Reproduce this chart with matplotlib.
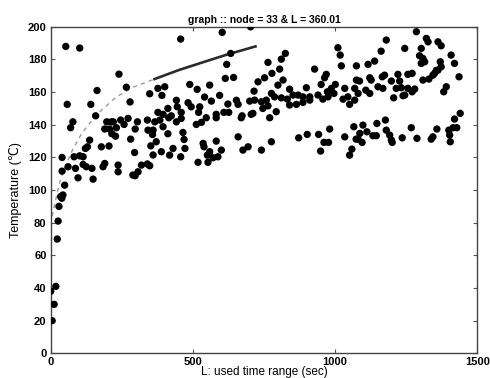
import matplotlib
matplotlib.use("Agg")
import matplotlib.pyplot as plt

plt.rcParams['font.family'] = ['Liberation Sans', 'DejaVu Sans']

# measured samples: used time range (sec) vs temperature
used_time = [
    0, 12, 5, 18, 23, 26, 29, 35, 43, 39, 49,
    53, 102, 240, 163, 266, 348, 58, 141, 279, 158,
    603, 703, 457, 633, 619, 614, 643, 489, 559, 377, 401, 515, 391, 541, 594,
    442, 565, 653, 700, 623, 483, 494, 445, 412, 524, 659,
    377, 395, 424, 459, 520, 582, 609, 626, 673, 705,
    366, 395, 360, 358, 415, 442, 459, 465, 469, 512, 530, 547, 582, 670,
    371, 352, 389, 430, 418, 457, 536, 539, 582, 600, 559, 551, 571, 588,
    518, 553, 659, 676, 694, 348,
    78, 70, 213, 246, 272, 258, 231, 190, 207, 305, 340, 297, 342, 281,
    137, 129, 122, 178, 205, 295, 40, 82, 102, 114, 61, 87, 114, 125, 145,
    190, 184, 237, 237, 319, 307, 289, 297, 40, 96, 149,
    197, 220, 215, 228, 340, 384, 412, 472, 360,
    1010, 1018, 1022, 825, 811, 764, 805, 778, 752, 729, 817, 928, 969, 963,
    799, 951, 715, 776,
    840, 852, 870, 887, 832, 899, 911, 840, 864, 887, 911, 940, 957, 973, 987,
    1001, 996, 1034, 1045, 1069, 975, 717,
    741, 758, 787, 811, 746, 764, 793, 711, 770, 1051, 1028,
    1286, 1180, 1321, 1327, 1362, 1373, 1162, 1245, 1303, 1297, 1309, 1303,
    1315, 1408, 1420, 1370, 1373, 1362, 1350, 1344, 1436, 1075, 1116, 1139,
    1166, 1174, 1221, 1256, 1271, 1075, 1086, 1122, 1127, 1198, 1227, 1309,
    1330, 1356, 1151, 1168, 1215, 1233, 1256, 1280, 1245, 1271, 1391, 1382,
    1108, 1081, 1122, 1206, 1239, 1069,
    741, 776, 872, 902, 942, 981, 961, 977, 949, 1034, 1066, 1074, 1059, 1051,
    1087,
    1098, 1147, 1177, 1081, 1095, 1112, 1133, 1145, 1180, 1192, 1198, 1201,
    1236, 1268, 1288, 1338, 1344, 1358, 1400, 1403, 1405, 1415, 1420, 1428,
    1440,
]
temperature = [
    38, 30, 20, 41, 70, 81, 90, 96, 97, 95, 103,
    188, 187, 171, 161, 163, 159, 152.5, 152.5, 154, 145.5,
    196.6, 200, 192.5, 183.7, 177, 168.4, 169, 164.7, 164.3, 162.3, 163.3, 161.7, 158, 157, 158,
    155, 154.5, 155, 154.5, 152.7, 153.5, 151, 151, 150, 151, 152.5,
    147.6, 146.4, 145.5, 147.6, 147.6, 146.4, 147.6, 147.6, 145.5, 146.4,
    141.8, 138.8, 136.7, 134, 144.3, 141.8, 143.9, 135.3, 131, 140.2, 141.5, 144.3, 144.3, 144.3,
    129.6, 127.1, 123.5, 125.5, 121.4, 120.4, 128.6, 126.5, 130, 124.5, 123.5, 121.4, 119.8, 120.4,
    117, 117, 132.6, 124.5, 126.5, 114.9,
    141.8, 138.2, 141.8, 142.9, 143.9, 140.2, 138.2, 137.4, 137.4, 141.8, 142.9, 137.4, 136.7, 131.2,
    130.6, 126.5, 125.5, 126.5, 127, 123, 120, 120.4, 121, 120.4, 114.3, 113.3, 115.7, 114.3, 113.3,
    116.3, 114.3, 115.3, 111.2, 115.3, 111.2, 109.2, 108.8, 111.6, 107.5, 106.7,
    141.8, 141.8, 134.5, 133, 116, 142.9, 134.5, 125.5, 121.5,
    187.2, 182.7, 176.1, 183.7, 180.2, 178.2, 174.1, 171.5, 168.8, 166.3, 167.4, 174.1, 170.9, 168.8,
    164.3, 164.7, 160.6, 159.2,
    161.8, 158.2, 158.2, 157.1, 155.7, 162.7, 157.1, 152.1, 152.5, 153.7, 155.1, 158.2, 155.7, 160.2, 162.3,
    164.7, 159.2, 162.3, 157.1, 162.3, 157.1, 155.1,
    154.1, 155.1, 157.1, 156.5, 150, 151.6, 148, 147, 144.3, 152.5, 155.7,
    197, 191.9, 192.9, 190.8, 190.8, 188.4, 185.1, 186.8, 186.8, 182.3, 180.6, 177.6,
    178.6, 182.7, 177.6, 178.6, 175.5, 173.5, 171.5, 170.4, 169.4, 176.1, 177, 179,
    169.4, 170.4, 170.9, 170.9, 171.5, 167.4, 166.8, 168.8, 167.4, 166.8, 166.8, 167.4,
    168, 173.3, 163.3, 162.3, 162.3, 162.7, 162.3, 161.9, 158.2, 160.2, 163.3, 160.2,
    161.2, 159.2, 159.2, 156.5, 157.8, 155.1,
    124.5, 129.6, 132, 134.1, 134.1, 137.4, 129.2, 129.2, 123.9, 132.6, 138.8, 131.2, 125.1, 121.4,
    134.7,
    139.8, 140.8, 142.9, 131.2, 129.2, 135.7, 133.3, 133.3, 136.7, 133.7, 130.6, 129.2,
    132, 138.2, 131.7, 131.2, 132.6, 137.4, 136.7, 133.7, 129.6, 138.2, 143.5, 138.2,
    147,
]

# fitted trend, dashed over the short ranges and solid further on
fit_x_dash = [5, 15, 30, 50, 75, 110, 160, 230, 290, 365]
fit_y_dash = [84, 92, 104, 114, 124, 135, 146, 157, 163, 168]
fit_x_solid = [365, 450, 530, 620, 720]
fit_y_solid = [168, 173.5, 178, 183, 188]

fig = plt.figure(figsize=(4.9, 3.78), dpi=100)
ax = fig.add_axes([0.1035, 0.0653, 0.8705, 0.8637])

ax.plot(fit_x_dash, fit_y_dash, color='#9a9a9a', linestyle=(0, (3, 3)), linewidth=1.0)
ax.plot(fit_x_solid, fit_y_solid, color='#2a2a2a', linewidth=1.9)
ax.scatter(used_time, temperature, s=28, color='black', edgecolors='none', zorder=3)

ax.set_xlim(0, 1500)
ax.set_ylim(0, 200)
ax.set_xticks([0, 500, 1000, 1500])
ax.set_yticks(range(0, 201, 20))
ax.tick_params(direction='in', length=3, width=0.8, color='#555555',
               top=True, right=True, labelsize=8, pad=3)
for lab in ax.get_xticklabels() + ax.get_yticklabels():
    lab.set_fontweight('bold')
for sp in ax.spines.values():
    sp.set_color('#444444')
    sp.set_linewidth(1.0)

ax.set_title('graph :: node = 33 & L = 360.01', fontsize=7.5, fontweight='bold', pad=3)
ax.set_ylabel('Temperature (℃)', fontsize=9, labelpad=4)
ax.set_xlabel('L: used time range (sec)', fontsize=8.5, labelpad=-1)

fig.savefig('out.png', dpi=100)
